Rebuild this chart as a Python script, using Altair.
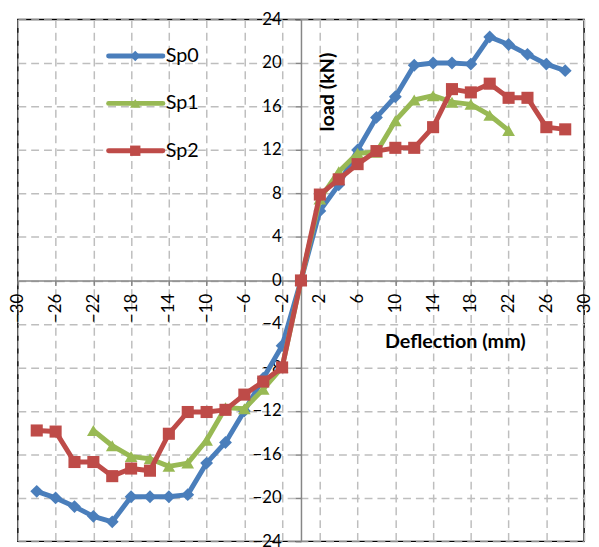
import altair as alt
import pandas as pd

series_names = ["Sp0", "Sp1", "Sp2"]
series_colors = ["#4A7EBB", "#98B954", "#BE4B48"]
series_shapes = ["diamond", "triangle-up", "square"]
series_sizes = [170, 165, 150]

sp0_deflection = [-28, -26, -24, -22, -20, -18, -16, -14, -12, -10, -8, -6, -4, -2, 0,
                  2, 4, 6, 8, 10, 12, 14, 16, 18, 20, 22, 24, 26, 28]
sp0_load = [-19.4, -20.0, -20.8, -21.7, -22.2, -19.9, -19.9, -19.9, -19.7, -16.8, -14.9, -12.0, -9.0, -6.0, 0.0,
            6.4, 8.8, 12.0, 15.0, 16.9, 19.8, 20.0, 20.0, 19.9, 22.4, 21.7, 20.8, 19.9, 19.3]

sp1_deflection = [-22, -20, -18, -16, -14, -12, -10, -8, -6, -4, -2, 0,
                  2, 4, 6, 8, 10, 12, 14, 16, 18, 20, 22]
sp1_load = [-13.8, -15.2, -16.2, -16.4, -17.1, -16.8, -14.7, -11.7, -11.8, -10.0, -8.0, 0.0,
            7.5, 10.0, 11.7, 11.8, 14.7, 16.6, 17.0, 16.4, 16.2, 15.2, 13.8]

sp2_deflection = [-28, -26, -24, -22, -20, -18, -16, -14, -12, -10, -8, -6, -4, -2, 0,
                  2, 4, 6, 8, 10, 12, 14, 16, 18, 20, 22, 24, 26, 28]
sp2_load = [-13.8, -13.9, -16.7, -16.7, -18.0, -17.3, -17.5, -14.1, -12.1, -12.1, -11.9, -10.5, -9.3, -8.0, 0.0,
            7.9, 9.3, 10.7, 11.9, 12.2, 12.2, 14.1, 17.6, 17.3, 18.1, 16.8, 16.8, 14.1, 13.9]

x_ticks = list(range(-30, 31, 4))
y_ticks = list(range(-24, 25, 4))

all_x = [sp0_deflection, sp1_deflection, sp2_deflection]
all_y = [sp0_load, sp1_load, sp2_load]

W, H = 574, 529
FONT = "Lato"

x_enc = alt.X(
    "deflection:Q",
    scale=alt.Scale(domain=[-30, 30], nice=False, zero=False),
    axis=alt.Axis(
        values=x_ticks, offset=-H / 2, grid=True, gridDash=[8, 5], gridColor="#BEBEBE", gridWidth=1.5,
        domainColor="#868686", domainWidth=1.5, tickColor="#868686", tickSize=5, tickWidth=1.5,
        labelAngle=270, labelFont=FONT, labelFontSize=17, labelColor="black", labelPadding=8,
        labelFlush=False, labelOverlap=False,
        title="Deflection (mm)", titleFont=FONT, titleFontSize=20, titleFontWeight="bold", titleColor="black",
        titleX=443, titleY=62, titleAlign="center", titleBaseline="middle",
    ),
)
y_enc = alt.Y(
    "load:Q",
    scale=alt.Scale(domain=[-24, 24], nice=False, zero=False),
    axis=alt.Axis(
        values=y_ticks, offset=-W / 2, grid=True, gridDash=[8, 5], gridColor="#BEBEBE", gridWidth=1.5,
        domainColor="#868686", domainWidth=1.5, tickColor="#868686", tickSize=6, tickWidth=1.5,
        labelFont=FONT, labelFontSize=17, labelColor="black", labelPadding=14,
        labelFlush=False, labelOverlap=False,
        title="load (kN)", titleFont=FONT, titleFontSize=20, titleFontWeight="bold", titleColor="black",
        titleX=27, titleY=73, titleAngle=270, titleAlign="center", titleBaseline="middle",
    ),
)

layers = []
for i, name in enumerate(series_names):
    df = pd.DataFrame({"deflection": all_x[i], "load": all_y[i]})
    df["series"] = name
    df["idx"] = range(len(df))
    base = alt.Chart(df)
    layers.append(
        base.mark_line(color=series_colors[i], strokeWidth=5, strokeCap="round", strokeJoin="round")
        .encode(x=x_enc, y=y_enc, order=alt.Order("idx:Q"))
    )
    layers.append(
        base.mark_point(shape=series_shapes[i], filled=True, size=series_sizes[i], opacity=1,
                        color=series_colors[i])
        .encode(x=x_enc, y=y_enc)
    )

# legend (inside plot, upper left)
for i, name in enumerate(series_names):
    ldf = pd.DataFrame({"series": [name]})
    yy = 37 + 48 * i
    lb = alt.Chart(ldf)
    layers.append(
        lb.mark_rule(color=series_colors[i], strokeWidth=5, strokeCap="round")
        .encode(x=alt.value(92), x2=alt.value(147), y=alt.value(yy))
    )
    layers.append(
        lb.mark_point(shape=series_shapes[i], filled=True, size=110, opacity=1, color=series_colors[i])
        .encode(x=alt.value(119), y=alt.value(yy))
    )
    layers.append(
        lb.mark_text(align="left", baseline="middle", font=FONT, fontSize=20, color="black")
        .encode(x=alt.value(150), y=alt.value(yy), text="series:N")
    )

chart = (
    alt.layer(*layers)
    .properties(
        width=W, height=H,
        autosize=alt.AutoSizeParams(type="none"),
        padding={"left": 10, "top": 8, "right": 7, "bottom": 2},
    )
    .configure_view(stroke="black", strokeWidth=1.5)
)

chart.save("out.html", embed_options={"renderer": "svg", "actions": False})
